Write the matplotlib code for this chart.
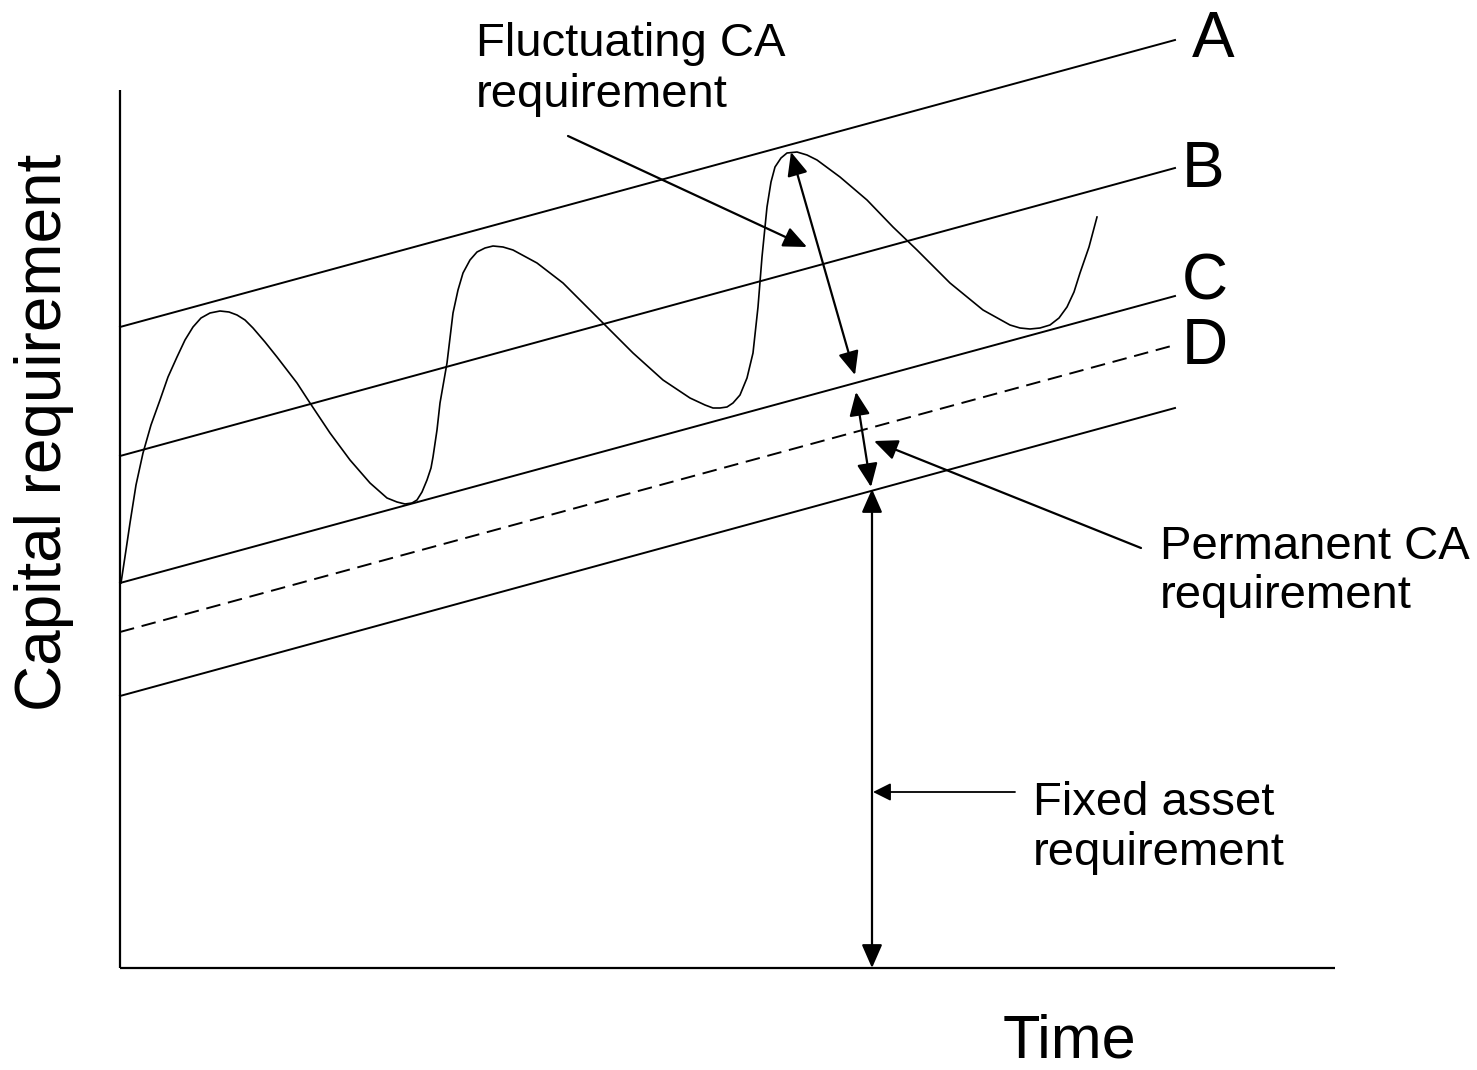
import matplotlib.pyplot as plt

plt.rcParams['font.family'] = ['Liberation Sans', 'DejaVu Sans']

# straight trend lines, (x_left, y_left, x_right, y_right) in picture units (y grows downward)
line_names = ['A', 'B', 'C', 'D', '']
line_x = [120, 1175]
line_y = {
    'A': [327, 40],
    'B': [456, 168],
    'C': [583, 296],
    'D': [632, 345],
    '': [696, 408],
}
label_pos = {'A': (1192, 40), 'B': (1182, 170), 'C': (1182, 283), 'D': (1182, 347)}

# fluctuating capital requirement curve
curve_x = [121, 126, 130, 136, 143, 151, 160, 168, 177, 185, 193, 201, 210, 220, 229, 237, 245,
           253, 265, 277, 297, 310, 330, 350, 370, 387, 397, 405, 412, 417, 422, 427, 431, 433,
           437, 440, 447, 453, 458, 463, 470, 477, 485, 493, 503, 513, 537, 563, 587, 607, 633,
           663, 690, 705, 713, 720, 727, 733, 740, 747, 753, 758, 762, 767, 771, 775, 781, 787,
           797, 807, 817, 840, 867, 893, 917, 950, 983, 1010, 1020, 1030, 1040, 1050, 1059, 1067,
           1074, 1080, 1089, 1097]
curve_y = [583, 550, 523, 485, 453, 425, 400, 377, 357, 340, 327, 318, 313, 311, 312, 315, 320,
           328, 342, 357, 383, 403, 433, 460, 483, 498, 502, 504, 503, 500, 492, 480, 468, 457,
           430, 403, 363, 313, 290, 273, 260, 252, 248, 246, 247, 250, 263, 283, 307, 327, 353,
           380, 398, 405, 408, 408, 407, 403, 395, 378, 353, 307, 257, 207, 182, 167, 158, 153,
           152, 155, 160, 177, 200, 227, 250, 283, 310, 325, 328, 329, 328, 325, 318, 307, 292,
           273, 247, 217]

# arrows: (tail, head, style)
arrows = [
    ((568, 136), (807, 247), '-|>'),
    ((791, 152), (855, 375), '<|-|>'),
    ((856, 392), (871, 487), '<|-|>'),
    ((1141, 548), (874, 441), '-|>'),
    ((872, 489), (872, 968), '<|-|>'),
]
small_arrow = ((1015, 792), (873, 792))

fig = plt.figure(figsize=(14.77, 10.7), dpi=100)
ax = fig.add_axes([0, 0, 1, 1])
ax.set_xlim(0, 1477)
ax.set_ylim(1070, 0)
ax.axis('off')

# axes of the diagram
ax.plot([120, 120], [90, 968], color='black', lw=1.6, solid_capstyle='butt')
ax.plot([120, 1335], [968, 968], color='black', lw=1.6, solid_capstyle='butt')

for name in line_names:
    if name == 'D':
        ax.plot(line_x, line_y[name], color='black', lw=1.4, dashes=(7.5, 4))
    else:
        ax.plot(line_x, line_y[name], color='black', lw=1.4)
    if name:
        ax.text(label_pos[name][0], label_pos[name][1], name, fontsize=46,
                ha='left', va='center')

ax.plot(curve_x, curve_y, color='black', lw=1.2, solid_joinstyle='round')

for tail, head, style in arrows:
    ax.annotate('', xy=head, xytext=tail,
                arrowprops=dict(arrowstyle=style + ',head_length=0.8,head_width=0.35',
                                mutation_scale=18, color='black', lw=1.6,
                                shrinkA=0, shrinkB=0))
ax.annotate('', xy=small_arrow[1], xytext=small_arrow[0],
            arrowprops=dict(arrowstyle='-|>,head_length=0.6,head_width=0.3',
                            mutation_scale=18, color='black', lw=1.3,
                            shrinkA=0, shrinkB=0))

# va='baseline' on multi-line text anchors the baseline of the last line
ax.text(476, 107, 'Fluctuating CA\nrequirement', fontsize=34, ha='left', va='baseline',
        linespacing=1.2)
ax.text(1160, 608, 'Permanent CA\nrequirement', fontsize=34, ha='left', va='baseline',
        linespacing=1.15)
ax.text(1033, 865, 'Fixed asset\nrequirement', fontsize=34, ha='left', va='baseline',
        linespacing=1.17)
ax.text(1069, 1042, 'Time', fontsize=44, ha='center', va='center')
ax.text(44, 432, 'Capital requirement', fontsize=46, rotation=90, ha='center', va='center')

fig.savefig('out.png', dpi=100)
